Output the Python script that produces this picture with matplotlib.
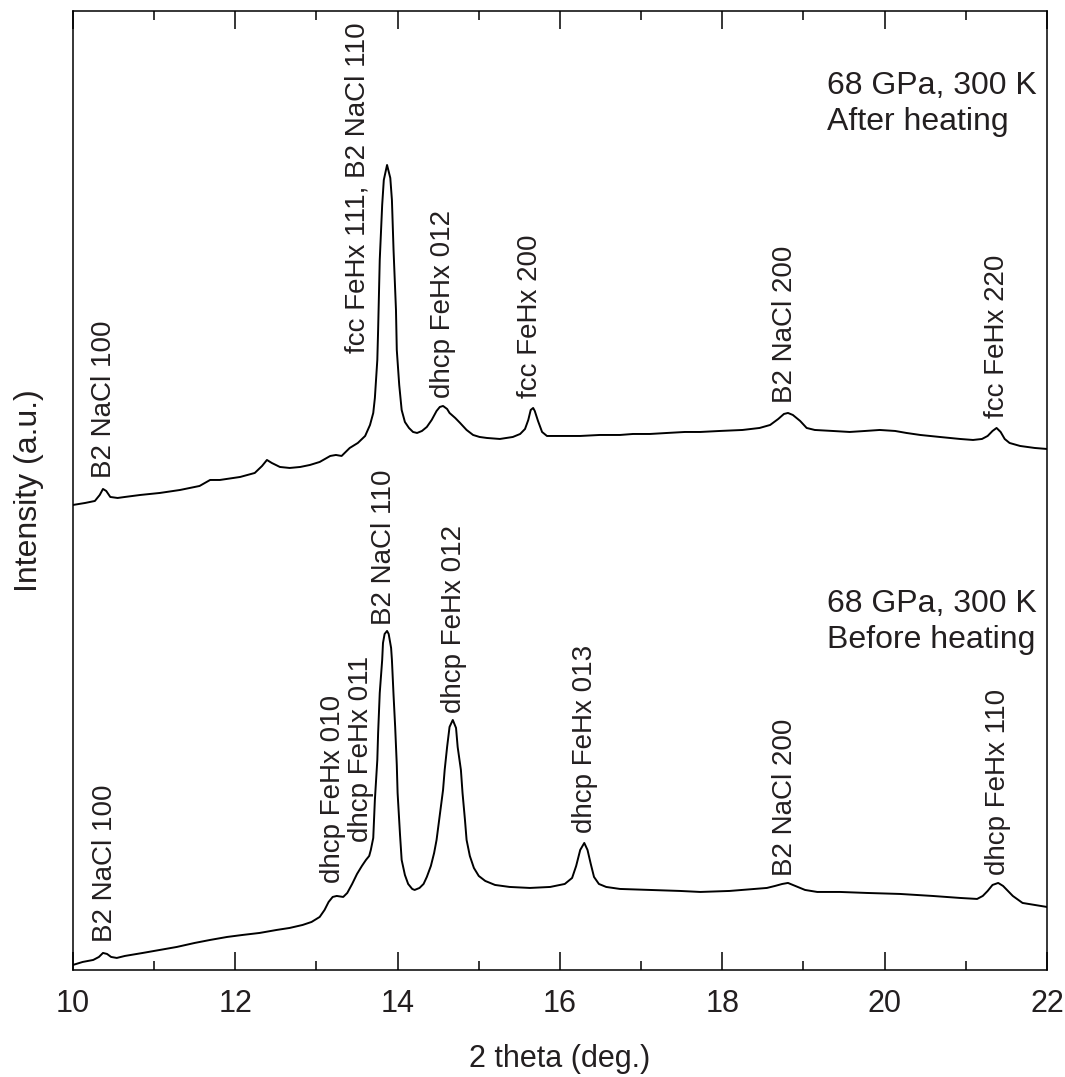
import matplotlib
matplotlib.use('Agg')
import matplotlib.pyplot as plt
from matplotlib import font_manager
from matplotlib.ticker import MultipleLocator

# XRD patterns (2 theta in deg., intensity in arbitrary units, offset already applied)
after_theta = [
    10.00, 10.15, 10.27, 10.33, 10.37, 10.41, 10.46, 10.55, 10.64, 10.83,
    11.07, 11.32, 11.56, 11.69, 11.81, 12.06, 12.24, 12.33, 12.39, 12.45,
    12.55, 12.67, 12.80, 12.92, 13.04, 13.17, 13.24, 13.31, 13.41, 13.51,
    13.60, 13.66, 13.70, 13.72, 13.75, 13.76, 13.78, 13.81, 13.83, 13.87,
    13.91, 13.93, 13.95, 13.98, 13.99, 14.02, 14.05, 14.09, 14.14, 14.19,
    14.24, 14.30, 14.36, 14.42, 14.48, 14.52, 14.56, 14.61, 14.64, 14.71,
    14.77, 14.85, 14.93, 15.01, 15.10, 15.26, 15.42, 15.51, 15.57, 15.61,
    15.64, 15.67, 15.69, 15.73, 15.78, 15.84, 15.94, 16.09, 16.25, 16.49,
    16.74, 16.90, 17.11, 17.32, 17.54, 17.73, 17.97, 18.25, 18.46, 18.59,
    18.69, 18.76, 18.81, 18.87, 18.96, 19.04, 19.14, 19.36, 19.57, 19.76,
    19.94, 20.13, 20.27, 20.44, 20.68, 20.93, 21.09, 21.20, 21.27, 21.33,
    21.38, 21.43, 21.48, 21.54, 21.67, 21.85, 22.00,
]
after_int = [
    465, 467, 469, 475, 481, 479, 473, 472, 473, 475,
    477, 480, 484, 490, 490, 493, 497, 504, 510, 507,
    503, 502, 503, 505, 508, 514, 515, 514, 522, 527,
    534, 545, 557, 572, 610, 640, 710, 765, 790, 805,
    792, 770, 720, 660, 620, 585, 560, 548, 542, 538,
    537, 539, 543, 550, 559, 563, 564, 561, 557, 552,
    547, 540, 535, 533, 532, 531, 533, 536, 541, 550,
    560, 562, 559, 549, 538, 534, 534, 534, 534, 535,
    535, 536, 536, 537, 538, 538, 539, 540, 542, 545,
    551, 556, 557, 555, 549, 542, 540, 539, 538, 539,
    540, 539, 537, 535, 533, 531, 530, 531, 534, 539,
    542, 538, 531, 527, 524, 522, 521,
]

before_theta = [
    10.00, 10.12, 10.25, 10.32, 10.37, 10.42, 10.47, 10.54, 10.64, 10.86,
    11.07, 11.28, 11.50, 11.69, 11.90, 12.09, 12.30, 12.51, 12.67, 12.83,
    12.94, 13.04, 13.10, 13.15, 13.20, 13.25, 13.33, 13.38, 13.44, 13.50,
    13.56, 13.61, 13.65, 13.67, 13.70, 13.72, 13.75, 13.76, 13.78, 13.81,
    13.82, 13.84, 13.87, 13.89, 13.92, 13.93, 13.95, 13.97, 13.99, 14.00,
    14.03, 14.05, 14.09, 14.13, 14.18, 14.21, 14.27, 14.32, 14.36, 14.41,
    14.45, 14.48, 14.52, 14.56, 14.58, 14.61, 14.64, 14.68, 14.72, 14.74,
    14.78, 14.80, 14.83, 14.85, 14.89, 14.94, 15.00, 15.08, 15.20, 15.38,
    15.63, 15.88, 16.06, 16.15, 16.20, 16.25, 16.30, 16.34, 16.38, 16.42,
    16.48, 16.57, 16.74, 17.11, 17.48, 17.73, 18.09, 18.55, 18.65, 18.74,
    18.81, 18.90, 19.02, 19.17, 19.45, 19.78, 20.19, 20.59, 20.93, 21.14,
    21.21, 21.27, 21.33, 21.40, 21.46, 21.52, 21.58, 21.70, 21.85, 22.00,
]
before_int = [
    5, 8, 10, 13, 17, 16, 13, 12, 14, 17,
    20, 23, 27, 30, 33, 35, 37, 40, 42, 45,
    48, 53, 60, 68, 73, 74, 73, 77, 86, 96,
    104, 110, 114, 120, 132, 170, 210, 237, 277, 310,
    327, 336, 339, 336, 322, 310, 275, 243, 205, 177,
    135, 110, 95, 86, 81, 80, 82, 86, 93, 104,
    117, 130, 155, 180, 200, 223, 243, 250, 242, 223,
    200, 177, 150, 130, 114, 102, 94, 89, 85, 83,
    82, 83, 86, 92, 104, 120, 127, 120, 106, 93,
    86, 83, 81, 80, 79, 78, 79, 82, 84, 86,
    87, 84, 80, 78, 78, 77, 76, 74, 72, 71,
    74, 79, 85, 87, 84, 79, 74, 67, 65, 63,
]

# peak assignments: (label, 2 theta, intensity at label foot)
after_labels = [
    ('B2 NaCl 100', 10.38, 492),
    ('fcc FeHx 111, B2 NaCl 110', 13.50, 617),
    ('dhcp FeHx 012', 14.56, 572),
    ('fcc FeHx 200', 15.63, 572),
    ('B2 NaCl 200', 18.77, 567),
    ('fcc FeHx 220', 21.38, 552),
]
before_labels = [
    ('B2 NaCl 100', 10.39, 28),
    ('dhcp FeHx 010', 13.20, 87),
    ('dhcp FeHx 011', 13.55, 128),
    ('B2 NaCl 110', 13.83, 345),
    ('dhcp FeHx 012', 14.69, 257),
    ('dhcp FeHx 013', 16.31, 137),
    ('B2 NaCl 200', 18.77, 94),
    ('dhcp FeHx 110', 21.40, 95),
]

names = {f.name for f in font_manager.fontManager.ttflist}
narrow = 'Liberation Sans Narrow' if 'Liberation Sans Narrow' in names else 'Liberation Sans'
plt.rcParams['font.family'] = ['Liberation Sans', 'DejaVu Sans']

fig = plt.figure(figsize=(10.65, 10.77), dpi=100)
ax = fig.add_axes([0.0685, 0.0994, 0.9145, 0.8904])

ax.plot(after_theta, after_int, color='black', lw=1.4)
ax.plot(before_theta, before_int, color='black', lw=1.4)

for text, x, y in after_labels + before_labels:
    ax.text(x, y, text, rotation=90, ha='center', va='bottom', fontsize=20, color='#231f20')

ax.text(19.29, 899, '68 GPa, 300 K\nAfter heating', ha='left', va='top',
        fontsize=23, linespacing=1.25, color='#231f20')
ax.text(19.29, 381, '68 GPa, 300 K\nBefore heating', ha='left', va='top',
        fontsize=23, linespacing=1.25, color='#231f20')

ax.set_xlim(10, 22)
ax.set_ylim(0, 959)
ax.xaxis.set_major_locator(MultipleLocator(2))
ax.xaxis.set_minor_locator(MultipleLocator(1))
ax.set_yticks([])
ax.tick_params(axis='x', which='both', direction='in', top=True, width=1.1, pad=14)
ax.tick_params(axis='x', which='major', length=13)
ax.tick_params(axis='x', which='minor', length=6.5)
for lbl in ax.get_xticklabels():
    lbl.set_fontfamily(narrow)
    lbl.set_fontsize(22)
    lbl.set_color('#231f20')
for sp in ax.spines.values():
    sp.set_linewidth(1.1)

ax.set_xlabel('2 theta (deg.)', fontsize=22, family=narrow, labelpad=18, color='#231f20')
ax.set_ylabel('Intensity (a.u.)', fontsize=23, labelpad=21, color='#231f20')

fig.savefig('out.png', dpi=100)
